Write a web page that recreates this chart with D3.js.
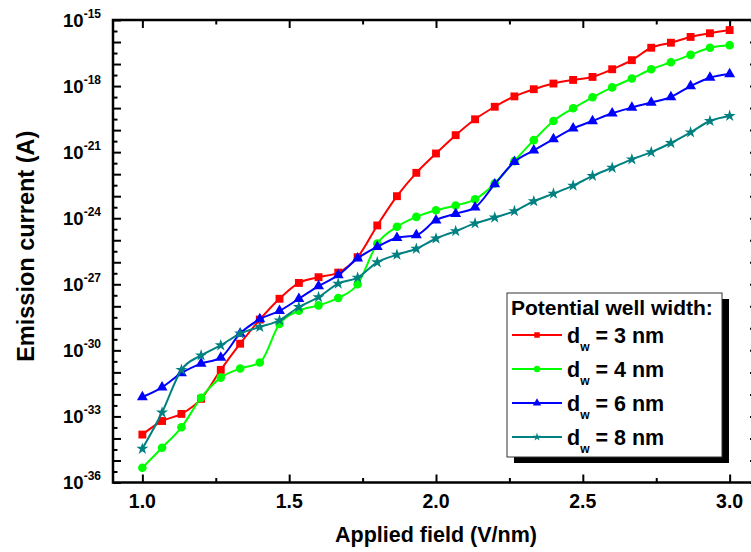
<!DOCTYPE html>
<html>
<head>
<meta charset="utf-8">
<script src="https://cdn.jsdelivr.net/npm/d3@7"></script>
<style>
  body { margin: 0; background: #fff; }
  svg { font-family: "Liberation Sans", Arial, sans-serif; font-weight: bold; }
</style>
</head>
<body>
<div id="chart"></div>
<script>
// applied field (V/nm)
const field = [1.000, 1.067, 1.133, 1.200, 1.267, 1.333, 1.400, 1.467, 1.533, 1.600,
  1.667, 1.733, 1.800, 1.867, 1.933, 2.000, 2.067, 2.133, 2.200, 2.267,
  2.333, 2.400, 2.467, 2.533, 2.600, 2.667, 2.733, 2.800, 2.867, 2.933, 3.000];

// emission current (A) for each well width
const current3nm = [1.5e-34, 6.2e-34, 1.3e-33, 6.3e-33, 1.3e-31, 2.0e-30, 2.5e-29, 2.2e-28, 1.15e-27, 2.1e-27,
  3.4e-27, 1.7e-26, 4.7e-25, 1.0e-23, 1.15e-22, 8.7e-22, 5.9e-21, 3.1e-20, 1.15e-19, 3.4e-19,
  7.2e-19, 1.3e-18, 1.9e-18, 2.6e-18, 5.8e-18, 1.5e-17, 5.5e-17, 9.3e-17, 1.7e-16, 2.5e-16, 3.5e-16];
const current4nm = [4.7e-36, 3.8e-35, 3.2e-34, 7.1e-33, 5.8e-32, 1.5e-31, 2.8e-31, 1.6e-29, 6.3e-29, 1.1e-28,
  2.4e-28, 1.0e-27, 7.1e-26, 4.1e-25, 1.15e-24, 2.3e-24, 3.8e-24, 7.2e-24, 3.8e-23, 3.9e-22,
  3.5e-21, 2.6e-20, 9.8e-20, 3.1e-19, 8.7e-19, 2.2e-18, 5.8e-18, 1.2e-17, 2.6e-17, 5.5e-17, 7.2e-17];
const current6nm = [7.6e-33, 2.1e-32, 9.3e-32, 2.5e-31, 4.7e-31, 5.8e-30, 2.6e-29, 6.2e-29, 2.2e-28, 8.3e-28,
  2.6e-27, 1.5e-26, 5.0e-26, 1.3e-25, 1.7e-25, 8.1e-25, 1.6e-24, 3.1e-24, 3.5e-23, 3.6e-22,
  1.2e-21, 3.9e-21, 1.2e-20, 2.6e-20, 5.8e-20, 1.05e-19, 1.8e-19, 3.2e-19, 1.0e-18, 2.4e-18, 3.5e-18];
const current8nm = [3.4e-35, 1.5e-33, 1.3e-31, 5.9e-31, 1.7e-30, 5.8e-30, 1.15e-29, 2.3e-29, 9.3e-29, 2.6e-28,
  1.07e-27, 2.0e-27, 1.0e-26, 2.2e-26, 4.1e-26, 1.2e-25, 2.6e-25, 5.8e-25, 1.07e-24, 2.1e-24,
  5.9e-24, 1.3e-23, 3.0e-23, 8.3e-23, 1.95e-22, 4.7e-22, 1.0e-21, 2.6e-21, 7.9e-21, 2.6e-20, 4.4e-20];

const wellWidths = ['3', '4', '6', '8'];
const xTickLabels = ['1.0', '1.5', '2.0', '2.5', '3.0'];
const yTickExponents = [-15, -18, -21, -24, -27, -30, -33, -36];
const legendTitle = 'Potential well width:';

class EmissionChart {
    constructor(){
        this.size = { width: 751, height: 552, left: 113, right: 759, top: 20, bottom: 482.5 };
        this.series = [
            { label: wellWidths[0], values: current3nm, color: '#ff0000', symbol: d3.symbolSquare, size: 62, legendSize: 30 },
            { label: wellWidths[1], values: current4nm, color: '#00ff00', symbol: d3.symbolCircle, size: 58, legendSize: 32 },
            { label: wellWidths[2], values: current6nm, color: '#0000ff', symbol: d3.symbolTriangle, size: 52, legendSize: 30 },
            { label: wellWidths[3], values: current8nm, color: '#008080', symbol: d3.symbolStar, size: 45, legendSize: 22 }
        ];
        this.drawPlot();
    }

    drawPlot(){
        this.svg = d3.select('#chart').append('svg')
            .attr('width', this.size.width)
            .attr('height', this.size.height);

        this.x = d3.scaleLinear().domain([0.9, 3.1]).range([this.size.left, this.size.right]);
        this.y = d3.scaleLog().domain([1e-36, 1e-15]).range([this.size.bottom, this.size.top]);

        this.drawAxis();
        this.drawLines();
        this.drawLegend();
    }

    drawAxis(){
        const s = this.size, x = this.x, y = this.y;
        const g = this.svg.append('g').attr('id', 'axis');

        const major = xTickLabels.map(Number);
        const minor = [1.25, 1.75, 2.25, 2.75];
        const decades = d3.range(-36, -14).map(e => Math.pow(10, e));
        const halves = d3.range(-36, -15).map(e => Math.pow(10, e + 0.5));

        const tickAxis = (gen, pos, vals, len) => {
            g.append('g').attr('transform', pos)
                .call(gen.tickValues(vals).tickSize(len).tickSizeOuter(0).tickFormat(''))
                .call(a => a.select('.domain').remove())
                .selectAll('line').attr('stroke', '#000').attr('stroke-width', 2);
        };
        tickAxis(d3.axisBottom(x), `translate(0,${s.bottom})`, major, -8);
        tickAxis(d3.axisBottom(x), `translate(0,${s.bottom})`, minor, -4.5);
        tickAxis(d3.axisTop(x), `translate(0,${s.top})`, major, -8);
        tickAxis(d3.axisTop(x), `translate(0,${s.top})`, minor, -4.5);
        tickAxis(d3.axisLeft(y), `translate(${s.left},0)`, decades, -8);
        tickAxis(d3.axisLeft(y), `translate(${s.left},0)`, halves, -4.5);
        tickAxis(d3.axisRight(y), `translate(${s.right},0)`, decades, -9);
        tickAxis(d3.axisRight(y), `translate(${s.right},0)`, halves, -4.5);

        g.append('rect')
            .attr('x', s.left).attr('y', s.top)
            .attr('width', s.right - s.left).attr('height', s.bottom - s.top)
            .attr('fill', 'none').attr('stroke', '#000').attr('stroke-width', 2.5);

        // x tick labels
        g.selectAll('.xlab').data(xTickLabels).join('text')
            .attr('class', 'xlab')
            .attr('x', d => x(+d)).attr('y', s.bottom + 25.5)
            .attr('text-anchor', 'middle').attr('font-size', 19.5)
            .text(d => d);

        // y tick labels 10^n
        const ylab = g.selectAll('.ylab').data(yTickExponents).join('text')
            .attr('class', 'ylab')
            .attr('x', 101).attr('y', d => y(Math.pow(10, d)) + 6.5)
            .attr('text-anchor', 'end');
        ylab.append('tspan').attr('font-size', 18.5).text('10');
        ylab.append('tspan').attr('font-size', 12).attr('dy', -9).text(d => d);

        g.append('text')
            .attr('transform', `translate(34,${(s.top + s.bottom) / 2 - 5}) rotate(-90)`)
            .attr('text-anchor', 'middle').attr('font-size', 23.5)
            .text('Emission current (A)');

        g.append('text')
            .attr('x', 436).attr('y', 542)
            .attr('text-anchor', 'middle').attr('font-size', 21.5)
            .text('Applied field (V/nm)');
    }

    drawLines(){
        const x = this.x, y = this.y;
        const line = d3.line()
            .x((d, i) => x(field[i]))
            .y(d => y(d))
            .curve(d3.curveMonotoneX);

        const groups = this.svg.append('g').attr('id', 'lines')
            .selectAll('g').data(this.series).join('g');

        groups.append('path')
            .attr('d', d => line(d.values))
            .attr('fill', 'none')
            .attr('stroke', d => d.color)
            .attr('stroke-width', 2);

        groups.each(function(sr){
            d3.select(this).selectAll('path.pt').data(sr.values).join('path')
                .attr('class', 'pt')
                .attr('transform', (v, i) => `translate(${x(field[i])},${y(v)})`)
                .attr('d', d3.symbol().type(sr.symbol).size(sr.size))
                .attr('fill', sr.color);
        });
    }

    drawLegend(){
        const g = this.svg.append('g').attr('id', 'legend');
        const bx = 507, by = 293, bw = 215, bh = 164;

        g.append('rect').attr('x', bx + 7).attr('y', by + 6).attr('width', bw).attr('height', bh).attr('fill', '#000');
        g.append('rect').attr('x', bx).attr('y', by).attr('width', bw).attr('height', bh)
            .attr('fill', '#fff').attr('stroke', '#333').attr('stroke-width', 1);

        g.append('text').attr('x', 511).attr('y', 315).attr('font-size', 21).text(legendTitle);

        const rows = g.selectAll('.entry').data(this.series).join('g')
            .attr('class', 'entry')
            .attr('transform', (d, i) => `translate(0,${335 + i * 34})`);

        rows.append('line').attr('x1', 512).attr('x2', 562)
            .attr('stroke', d => d.color).attr('stroke-width', 2);
        rows.append('path')
            .attr('transform', 'translate(537,0)')
            .attr('d', d => d3.symbol().type(d.symbol).size(d.legendSize)())
            .attr('fill', d => d.color);

        const t = rows.append('text').attr('x', 567).attr('y', 8).attr('font-size', 21.5);
        t.append('tspan').text('d');
        t.append('tspan').attr('font-size', 12).attr('dy', 8).text('w');
        t.append('tspan').attr('dy', -8).text(d => ` = ${d.label} nm`);
    }
}

new EmissionChart();
</script>
</body>
</html>
